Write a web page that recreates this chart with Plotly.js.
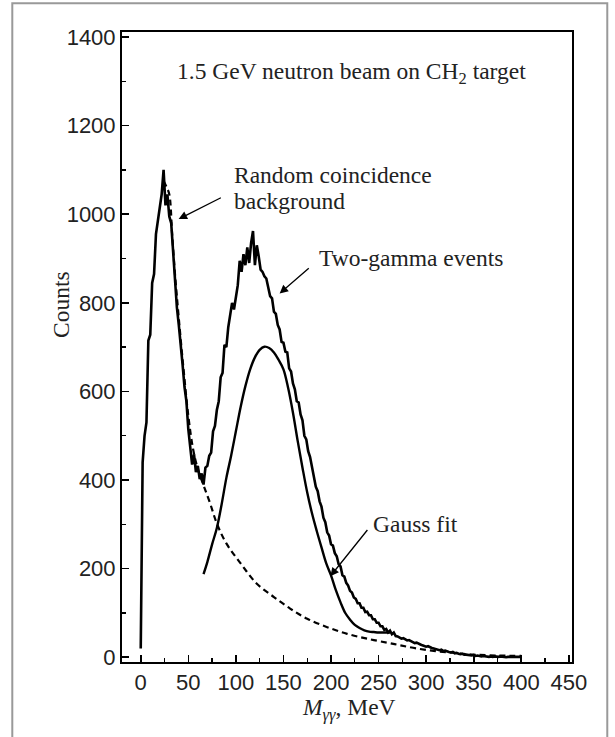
<!DOCTYPE html>
<html>
<head>
<meta charset="utf-8">
<script src="https://cdn.plot.ly/plotly-3.0.1.min.js"></script>
<style>html,body{margin:0;padding:0;background:#fff;}#chart{width:615px;height:737px;}</style>
</head>
<body>
<div id="chart"></div>
<script>
// Histogram of two-photon invariant mass, bins of 2 MeV starting at 0 MeV
const histStart = 0;
const histStep = 2;
const histCounts = [
 20,440,500,530,715,728,845,865,955,985,1015,1045,1100,1020,1045,995,980,910,855,790,
 750,695,660,610,578,515,478,435,458,418,432,402,415,390,428,432,455,462,510,522,
 558,578,632,642,705,700,745,770,800,785,815,840,895,870,910,885,925,890,935,962,
 885,930,905,875,870,860,855,835,815,810,780,775,750,740,712,710,690,688,652,645,
 618,605,578,575,548,535,500,492,465,452,428,412,385,375,352,340,315,305,282,275,
 255,252,235,228,210,205,185,182,168,162,150,146,135,132,122,122,112,112,102,103,
 95,95,86,86,78,78,70,70,62,64,56,60,52,56,48,47,44,42,43,40,
 38,39,36,35,32,33,30,29,27,26,24,25,22,21,20,19,18,16,17,14,
 15,13,12,11,12,9,10,8,7,8,6,6,5,5,4,5,3,4,3,2,
 3,2,2,1,2,1,2,1,1,2,1,1,0,1,1,0,1,0,1,0,1
];

// Gauss fit curve
const gaussX = [66,70,75,80,85,90,95,100,105,110,115,120,125,130,135,140,145,150,155,160,165,170,175,180,185,190,195,200,205,210,215,220,225,230,235,240,245,250,255,262];
const gaussY = [188,215,255,292,345,405,455,510,565,612,650,677,694,701,698,688,671,650,607,552,488,428,372,325,285,248,212,185,152,124,100,85,73,66,61,58,57,56,56,56];

// Random coincidence background (dashed)
const bgX = [24,27,30,33,36,40,45,50,55,60,66,73,80,90,105,122,140,157,175,196,217,238,259,273,290,310,330,350,375,400];
const bgY = [1075,1062,1045,955,865,765,650,545,470,425,388,347,302,257,212,166,136,110,87,68,53,42,33,27,20,14,10,6,4,3];

const xTickVals = [0,50,100,150,200,250,300,350,400,450];
const yTickVals = [0,200,400,600,800,1000,1200,1400];

const serif = 'Liberation Serif, Times New Roman, serif';
const sans = 'Liberation Sans, Arial, Helvetica, sans-serif';

const traces = [
  {x0: histStart, dx: histStep, y: histCounts, type: 'scatter', mode: 'lines',
   line: {color: '#000', width: 2.6}, showlegend: false, hoverinfo: 'skip'},
  {x: gaussX, y: gaussY, type: 'scatter', mode: 'lines', line: {color: '#000', width: 2.4, shape: 'spline'},
   showlegend: false, hoverinfo: 'skip'},
  {x: bgX, y: bgY, type: 'scatter', mode: 'lines', line: {color: '#000', width: 2.2, dash: '6px,4px', shape: 'spline'},
   showlegend: false, hoverinfo: 'skip'}
];

const txt = (text, x, y, extra) => Object.assign({
  text: text, x: x, y: y, xref: 'x', yref: 'y', showarrow: false,
  xanchor: 'left', yanchor: 'middle', font: {family: serif, size: 23.5, color: '#222'}
}, extra || {});

const arrow = (x, y, ax, ay) => ({
  text: '', x: x, y: y, ax: ax, ay: ay, xref: 'x', yref: 'y', axref: 'x', ayref: 'y',
  showarrow: true, arrowhead: 2, arrowsize: 1.3, arrowwidth: 1.3, arrowcolor: '#000', standoff: 0
});

const layout = {
  width: 615, height: 737,
  margin: {l: 122, r: 43, t: 32, b: 75, pad: 0},
  paper_bgcolor: '#fff', plot_bgcolor: '#fff',
  xaxis: {range: [-19.7, 453.3], tickvals: xTickVals, ticks: 'inside', ticklen: 7, tickwidth: 1.6,
    tickcolor: '#000', showline: true, linecolor: '#000', linewidth: 2, mirror: true,
    showgrid: false, zeroline: false, tickfont: {family: sans, size: 22, color: '#222'},
    minor: {dtick: 25, ticks: 'inside', ticklen: 4, tickwidth: 1.4, tickcolor: '#000', showgrid: false}},
  yaxis: {range: [-10.6, 1411.3], tickvals: yTickVals, ticks: 'inside', ticklen: 7, tickwidth: 1.6,
    tickcolor: '#000', showline: true, linecolor: '#000', linewidth: 2, mirror: true,
    showgrid: false, zeroline: false, tickfont: {family: sans, size: 22, color: '#222'},
    minor: {dtick: 100, ticks: 'inside', ticklen: 4, tickwidth: 1.4, tickcolor: '#000', showgrid: false}},
  annotations: [
    txt('1.5 GeV neutron beam on CH<sub>2</sub> target', 35.8, 1319),
    txt('Random coincidence', 96.3, 1089),
    txt('background', 96.3, 1030),
    txt('Two-gamma events', 185.6, 902),
    txt('Gauss fit', 241.9, 302),
    arrow(39.8, 989, 85.8, 1039),
    arrow(146, 821, 178.2, 881),
    arrow(199.3, 183, 239.5, 290.7),
    {text: 'Counts', xref: 'paper', yref: 'paper', x: -0.135, y: 0.567, textangle: -90,
     showarrow: false, xanchor: 'center', yanchor: 'middle', font: {family: serif, size: 23.5, color: '#222'}},
    {text: '<i>M</i><sub><i>γγ</i></sub>, MeV', xref: 'paper', yref: 'paper', x: 0.505, y: -0.075,
     showarrow: false, xanchor: 'center', yanchor: 'middle', font: {family: serif, size: 23.5, color: '#222'}}
  ],
  shapes: [
    {type: 'rect', xref: 'paper', yref: 'paper', x0: -0.2438, x1: 1.0784, y0: -0.13, y1: 1.0456,
     line: {color: '#999', width: 2}, fillcolor: 'rgba(0,0,0,0)', layer: 'below'}
  ]
};

Plotly.newPlot('chart', traces, layout, {staticPlot: true, displayModeBar: false});
</script>
</body>
</html>
